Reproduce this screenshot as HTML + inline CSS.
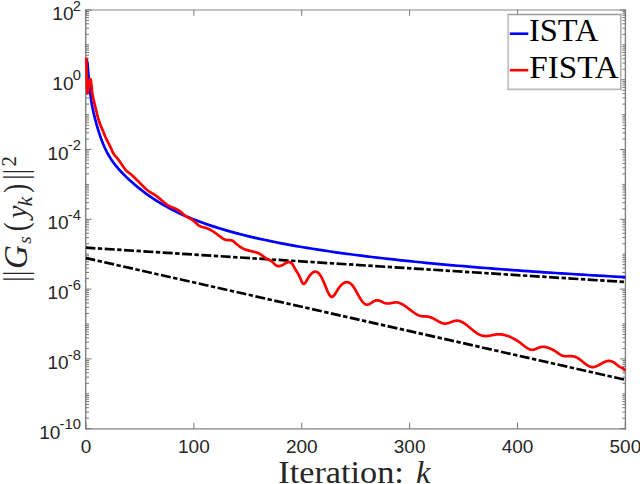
<!DOCTYPE html>
<html><head><meta charset="utf-8"><style>html,body{margin:0;padding:0;background:#fff;width:640px;height:484px;overflow:hidden}svg{display:block}</style></head>
<body><svg width="640" height="484" viewBox="0 0 640 484"><path d="M85.40 10.00H626.00" stroke="#c2c2c2" stroke-width="1.9" fill="none"/><path d="M85.40 428.85H626.00" stroke="#a4a4a4" stroke-width="1.7" fill="none"/><path d="M85.70 9.20V429.50M625.40 9.20V429.50" stroke="#808080" stroke-width="1.4" fill="none"/><path d="M86.00 428.70v-6 M86.00 9.90v6 M193.88 428.70v-6 M193.88 9.90v6 M301.76 428.70v-6 M301.76 9.90v6 M409.64 428.70v-6 M409.64 9.90v6 M517.52 428.70v-6 M517.52 9.90v6 M625.40 428.70v-6 M625.40 9.90v6 M86.00 428.70h5.5 M625.40 428.70h-5.5 M86.00 418.19h3.0 M625.40 418.19h-3.0 M86.00 412.05h3.0 M625.40 412.05h-3.0 M86.00 407.69h3.0 M625.40 407.69h-3.0 M86.00 404.31h3.0 M625.40 404.31h-3.0 M86.00 401.54h3.0 M625.40 401.54h-3.0 M86.00 399.21h3.0 M625.40 399.21h-3.0 M86.00 397.18h3.0 M625.40 397.18h-3.0 M86.00 395.40h3.0 M625.40 395.40h-3.0 M86.00 393.80h3.0 M625.40 393.80h-3.0 M86.00 383.29h3.0 M625.40 383.29h-3.0 M86.00 377.15h3.0 M625.40 377.15h-3.0 M86.00 372.79h3.0 M625.40 372.79h-3.0 M86.00 369.41h3.0 M625.40 369.41h-3.0 M86.00 366.64h3.0 M625.40 366.64h-3.0 M86.00 364.31h3.0 M625.40 364.31h-3.0 M86.00 362.28h3.0 M625.40 362.28h-3.0 M86.00 360.50h3.0 M625.40 360.50h-3.0 M86.00 358.90h5.5 M625.40 358.90h-5.5 M86.00 348.39h3.0 M625.40 348.39h-3.0 M86.00 342.25h3.0 M625.40 342.25h-3.0 M86.00 337.89h3.0 M625.40 337.89h-3.0 M86.00 334.51h3.0 M625.40 334.51h-3.0 M86.00 331.74h3.0 M625.40 331.74h-3.0 M86.00 329.41h3.0 M625.40 329.41h-3.0 M86.00 327.38h3.0 M625.40 327.38h-3.0 M86.00 325.60h3.0 M625.40 325.60h-3.0 M86.00 324.00h3.0 M625.40 324.00h-3.0 M86.00 313.49h3.0 M625.40 313.49h-3.0 M86.00 307.35h3.0 M625.40 307.35h-3.0 M86.00 302.99h3.0 M625.40 302.99h-3.0 M86.00 299.61h3.0 M625.40 299.61h-3.0 M86.00 296.84h3.0 M625.40 296.84h-3.0 M86.00 294.51h3.0 M625.40 294.51h-3.0 M86.00 292.48h3.0 M625.40 292.48h-3.0 M86.00 290.70h3.0 M625.40 290.70h-3.0 M86.00 289.10h5.5 M625.40 289.10h-5.5 M86.00 278.59h3.0 M625.40 278.59h-3.0 M86.00 272.45h3.0 M625.40 272.45h-3.0 M86.00 268.09h3.0 M625.40 268.09h-3.0 M86.00 264.71h3.0 M625.40 264.71h-3.0 M86.00 261.94h3.0 M625.40 261.94h-3.0 M86.00 259.61h3.0 M625.40 259.61h-3.0 M86.00 257.58h3.0 M625.40 257.58h-3.0 M86.00 255.80h3.0 M625.40 255.80h-3.0 M86.00 254.20h3.0 M625.40 254.20h-3.0 M86.00 243.69h3.0 M625.40 243.69h-3.0 M86.00 237.55h3.0 M625.40 237.55h-3.0 M86.00 233.19h3.0 M625.40 233.19h-3.0 M86.00 229.81h3.0 M625.40 229.81h-3.0 M86.00 227.04h3.0 M625.40 227.04h-3.0 M86.00 224.71h3.0 M625.40 224.71h-3.0 M86.00 222.68h3.0 M625.40 222.68h-3.0 M86.00 220.90h3.0 M625.40 220.90h-3.0 M86.00 219.30h5.5 M625.40 219.30h-5.5 M86.00 208.79h3.0 M625.40 208.79h-3.0 M86.00 202.65h3.0 M625.40 202.65h-3.0 M86.00 198.29h3.0 M625.40 198.29h-3.0 M86.00 194.91h3.0 M625.40 194.91h-3.0 M86.00 192.14h3.0 M625.40 192.14h-3.0 M86.00 189.81h3.0 M625.40 189.81h-3.0 M86.00 187.78h3.0 M625.40 187.78h-3.0 M86.00 186.00h3.0 M625.40 186.00h-3.0 M86.00 184.40h3.0 M625.40 184.40h-3.0 M86.00 173.89h3.0 M625.40 173.89h-3.0 M86.00 167.75h3.0 M625.40 167.75h-3.0 M86.00 163.39h3.0 M625.40 163.39h-3.0 M86.00 160.01h3.0 M625.40 160.01h-3.0 M86.00 157.24h3.0 M625.40 157.24h-3.0 M86.00 154.91h3.0 M625.40 154.91h-3.0 M86.00 152.88h3.0 M625.40 152.88h-3.0 M86.00 151.10h3.0 M625.40 151.10h-3.0 M86.00 149.50h5.5 M625.40 149.50h-5.5 M86.00 138.99h3.0 M625.40 138.99h-3.0 M86.00 132.85h3.0 M625.40 132.85h-3.0 M86.00 128.49h3.0 M625.40 128.49h-3.0 M86.00 125.11h3.0 M625.40 125.11h-3.0 M86.00 122.34h3.0 M625.40 122.34h-3.0 M86.00 120.01h3.0 M625.40 120.01h-3.0 M86.00 117.98h3.0 M625.40 117.98h-3.0 M86.00 116.20h3.0 M625.40 116.20h-3.0 M86.00 114.60h3.0 M625.40 114.60h-3.0 M86.00 104.09h3.0 M625.40 104.09h-3.0 M86.00 97.95h3.0 M625.40 97.95h-3.0 M86.00 93.59h3.0 M625.40 93.59h-3.0 M86.00 90.21h3.0 M625.40 90.21h-3.0 M86.00 87.44h3.0 M625.40 87.44h-3.0 M86.00 85.11h3.0 M625.40 85.11h-3.0 M86.00 83.08h3.0 M625.40 83.08h-3.0 M86.00 81.30h3.0 M625.40 81.30h-3.0 M86.00 79.70h5.5 M625.40 79.70h-5.5 M86.00 69.19h3.0 M625.40 69.19h-3.0 M86.00 63.05h3.0 M625.40 63.05h-3.0 M86.00 58.69h3.0 M625.40 58.69h-3.0 M86.00 55.31h3.0 M625.40 55.31h-3.0 M86.00 52.54h3.0 M625.40 52.54h-3.0 M86.00 50.21h3.0 M625.40 50.21h-3.0 M86.00 48.18h3.0 M625.40 48.18h-3.0 M86.00 46.40h3.0 M625.40 46.40h-3.0 M86.00 44.80h3.0 M625.40 44.80h-3.0 M86.00 34.29h3.0 M625.40 34.29h-3.0 M86.00 28.15h3.0 M625.40 28.15h-3.0 M86.00 23.79h3.0 M625.40 23.79h-3.0 M86.00 20.41h3.0 M625.40 20.41h-3.0 M86.00 17.64h3.0 M625.40 17.64h-3.0 M86.00 15.31h3.0 M625.40 15.31h-3.0 M86.00 13.28h3.0 M625.40 13.28h-3.0 M86.00 11.50h3.0 M625.40 11.50h-3.0 M86.00 9.90h5.5 M625.40 9.90h-5.5" stroke="#767676" stroke-width="1" fill="none"/><path d="M86.00 247.70L625.40 282.00" stroke="#000" stroke-width="2.7" fill="none" stroke-dasharray="10 2.48 4.4 2.48" stroke-dashoffset="0.6"/><path d="M86.00 258.10L625.40 379.80" stroke="#000" stroke-width="2.7" fill="none" stroke-dasharray="10 2.48 4.4 2.48" stroke-dashoffset="0.6"/><path d="M86.30 59.00 L87.35 62.42 L87.62 65.43 L87.89 68.54 L88.16 71.64 L88.43 74.72 L88.70 77.72 L88.97 80.64 L89.24 83.47 L89.51 86.19 L89.78 88.77 L90.05 91.23 L90.32 93.54 L90.58 95.71 L90.85 97.75 L91.12 99.65 L91.39 101.42 L92.47 107.54 L93.55 112.62 L94.63 117.10 L95.71 121.22 L96.79 125.12 L97.87 128.84 L98.95 132.35 L100.02 135.64 L101.10 138.73 L102.18 141.60 L103.26 144.27 L104.34 146.76 L105.42 149.09 L106.50 151.27 L107.58 153.32 L108.65 155.25 L109.73 157.07 L110.81 158.79 L111.89 160.42 L112.97 161.96 L114.05 163.43 L115.13 164.84 L116.21 166.18 L117.29 167.48 L118.36 168.73 L121.06 171.70 L123.76 174.48 L126.45 177.12 L129.15 179.65 L131.85 182.09 L134.55 184.45 L137.24 186.73 L139.94 188.92 L142.64 191.04 L145.33 193.07 L148.03 195.04 L150.73 196.93 L153.43 198.75 L156.12 200.50 L158.82 202.19 L161.52 203.82 L164.21 205.40 L166.91 206.91 L169.61 208.38 L172.30 209.79 L175.00 211.15 L177.70 212.47 L180.39 213.74 L183.09 214.97 L185.79 216.16 L188.49 217.31 L191.18 218.43 L193.88 219.51 L199.27 221.58 L204.67 223.53 L210.06 225.38 L215.46 227.14 L220.85 228.81 L226.24 230.40 L231.64 231.92 L237.03 233.37 L242.43 234.75 L247.82 236.09 L253.21 237.37 L258.61 238.60 L264.00 239.78 L269.40 240.92 L274.79 242.02 L280.18 243.08 L285.58 244.11 L290.97 245.10 L296.37 246.06 L301.76 246.99 L307.15 247.90 L312.55 248.77 L317.94 249.63 L323.34 250.45 L328.73 251.26 L334.12 252.04 L339.52 252.80 L344.91 253.54 L350.31 254.27 L355.70 254.97 L361.09 255.66 L366.49 256.33 L371.88 256.99 L377.28 257.63 L382.67 258.25 L388.06 258.87 L393.46 259.46 L398.85 260.05 L404.25 260.62 L409.64 261.18 L415.03 261.73 L420.43 262.27 L425.82 262.80 L431.22 263.31 L436.61 263.82 L442.00 264.32 L447.40 264.81 L452.79 265.29 L458.19 265.76 L463.58 266.22 L468.97 266.67 L474.37 267.12 L479.76 267.55 L485.16 267.98 L490.55 268.41 L495.94 268.82 L501.34 269.23 L506.73 269.63 L512.13 270.03 L517.52 270.42 L522.91 270.80 L528.31 271.18 L533.70 271.55 L539.10 271.92 L544.49 272.28 L549.88 272.64 L555.28 272.99 L560.67 273.33 L566.07 273.67 L571.46 274.01 L576.85 274.34 L582.25 274.66 L587.64 274.99 L593.04 275.30 L598.43 275.62 L603.82 275.93 L609.22 276.23 L614.61 276.53 L620.01 276.83 L625.40 277.12" stroke="#0000ff" stroke-width="2.7" fill="none" stroke-linejoin="round"/><path d="M86.20 57.50 C86.28 60.42 86.52 69.08 86.70 75.00 C86.88 80.92 87.02 90.83 87.30 93.00 C87.58 95.17 88.03 90.00 88.40 88.00 C88.77 86.00 89.13 82.42 89.50 81.00 C89.87 79.58 90.25 78.67 90.60 79.50 C90.95 80.33 91.33 83.73 91.60 86.00 C91.87 88.27 92.10 91.95 92.20 93.14 L92.80 96.10 L93.40 98.86 L94.00 101.48 L94.60 104.00 L95.20 106.45 L95.80 108.87 L96.40 111.29 L97.00 113.73 L97.60 116.12 L98.20 118.39 L98.80 120.48 L99.40 122.32 L100.00 123.94 L100.60 125.41 L101.20 126.79 L101.80 128.13 L102.40 129.50 L103.00 130.95 L103.60 132.48 L104.20 134.04 L104.80 135.55 L105.40 136.96 L106.00 138.27 L106.60 139.49 L107.20 140.67 L107.80 141.82 L108.40 142.99 L109.00 144.17 L109.60 145.39 L110.20 146.64 L110.80 147.93 L111.40 149.27 L112.00 150.62 L112.60 151.91 L113.20 153.07 L113.80 154.04 L114.40 154.88 L115.00 155.62 L115.60 156.29 L116.20 156.94 L116.80 157.62 L117.40 158.33 L118.00 159.10 L118.60 159.90 L119.20 160.73 L119.80 161.59 L120.40 162.47 L121.00 163.35 L121.60 164.24 L122.20 165.13 L122.80 166.01 L123.40 166.88 L124.00 167.72 L124.60 168.52 L125.20 169.29 L125.80 169.99 L126.40 170.62 L127.00 171.19 L127.60 171.71 L128.20 172.19 L128.80 172.65 L129.40 173.11 L130.00 173.58 L130.60 174.07 L131.20 174.57 L131.80 175.10 L132.40 175.64 L133.00 176.19 L133.60 176.76 L134.20 177.34 L134.80 177.92 L135.40 178.51 L136.00 179.10 L136.60 179.70 L137.20 180.29 L137.80 180.89 L138.40 181.49 L139.00 182.08 L139.60 182.68 L140.20 183.28 L140.80 183.88 L141.40 184.49 L142.00 185.09 L142.60 185.70 L143.20 186.31 L143.80 186.92 L144.40 187.52 L145.00 188.11 L145.60 188.68 L146.20 189.23 L146.80 189.75 L147.40 190.24 L148.00 190.69 L148.60 191.12 L149.20 191.52 L149.80 191.90 L150.40 192.27 L151.00 192.62 L151.60 192.97 L152.20 193.31 L152.80 193.66 L153.40 194.01 L154.00 194.37 L154.60 194.74 L155.20 195.13 L155.80 195.55 L156.40 195.98 L157.00 196.43 L157.60 196.89 L158.20 197.37 L158.80 197.86 L159.40 198.36 L160.00 198.87 L160.60 199.38 L161.20 199.90 L161.80 200.43 L162.40 200.95 L163.00 201.47 L163.60 201.99 L164.20 202.50 L164.80 203.00 L165.40 203.48 L166.00 203.94 L166.60 204.39 L167.20 204.80 L167.80 205.19 L168.40 205.55 L169.00 205.88 L169.60 206.19 L170.20 206.48 L170.80 206.76 L171.40 207.02 L172.00 207.28 L172.60 207.52 L173.20 207.77 L173.80 208.01 L174.40 208.26 L175.00 208.51 L175.60 208.77 L176.20 209.05 L176.80 209.34 L177.40 209.65 L178.00 209.99 L178.60 210.35 L179.20 210.73 L179.80 211.15 L180.40 211.61 L181.00 212.10 L181.60 212.61 L182.20 213.13 L182.80 213.66 L183.40 214.19 L184.00 214.72 L184.60 215.22 L185.20 215.70 L185.80 216.15 L186.40 216.56 L187.00 216.93 L187.60 217.27 L188.20 217.59 L188.80 217.90 L189.40 218.20 L190.00 218.51 L190.60 218.83 L191.20 219.17 L191.80 219.54 L192.40 219.95 L193.00 220.40 L193.60 220.89 L194.20 221.41 L194.80 221.95 L195.40 222.50 L196.00 223.06 L196.60 223.61 L197.20 224.15 L197.80 224.66 L198.40 225.15 L199.00 225.59 L199.60 225.98 L200.20 226.32 L200.80 226.59 L201.40 226.81 L202.00 226.99 L202.60 227.15 L203.20 227.28 L203.80 227.41 L204.40 227.53 L205.00 227.67 L205.60 227.84 L206.20 228.02 L206.80 228.23 L207.40 228.46 L208.00 228.70 L208.60 228.97 L209.20 229.25 L209.80 229.56 L210.40 229.87 L211.00 230.21 L211.60 230.56 L212.20 230.92 L212.80 231.29 L213.40 231.68 L214.00 232.08 L214.60 232.49 L215.20 232.90 L215.80 233.33 L216.40 233.76 L217.00 234.20 L217.60 234.65 L218.20 235.10 L218.80 235.55 L219.40 236.01 L220.00 236.47 L220.60 236.93 L221.20 237.38 L221.80 237.82 L222.40 238.24 L223.00 238.63 L223.60 238.99 L224.20 239.30 L224.80 239.56 L225.40 239.76 L226.00 239.90 L226.60 239.99 L227.20 240.03 L227.80 240.05 L228.40 240.05 L229.00 240.05 L229.60 240.06 L230.20 240.10 L230.80 240.19 L231.40 240.32 L232.00 240.53 L232.60 240.82 L233.20 241.19 L233.80 241.64 L234.40 242.14 L235.00 242.68 L235.60 243.24 L236.20 243.79 L236.80 244.33 L237.40 244.84 L238.00 245.32 L238.60 245.78 L239.20 246.22 L239.80 246.63 L240.40 247.01 L241.00 247.38 L241.60 247.73 L242.20 248.05 L242.80 248.36 L243.40 248.65 L244.00 248.92 L244.60 249.18 L245.20 249.42 L245.80 249.64 L246.40 249.86 L247.00 250.06 L247.60 250.25 L248.20 250.42 L248.80 250.59 L249.40 250.75 L250.00 250.90 L250.60 251.05 L251.20 251.19 L251.80 251.32 L252.40 251.46 L253.00 251.60 L253.60 251.74 L254.20 251.88 L254.80 252.04 L255.40 252.20 L256.00 252.38 L256.60 252.58 L257.20 252.79 L257.80 253.02 L258.40 253.28 L259.00 253.56 L259.60 253.87 L260.20 254.21 L260.80 254.58 L261.40 254.98 L262.00 255.40 L262.60 255.83 L263.20 256.27 L263.80 256.72 L264.40 257.17 L265.00 257.62 L265.60 258.05 L266.20 258.45 L266.80 258.83 L267.40 259.15 L268.00 259.44 L268.60 259.68 L269.20 259.92 L269.80 260.17 L270.40 260.46 L271.00 260.79 L271.60 261.21 L272.20 261.71 L272.80 262.30 L273.40 262.93 L274.00 263.57 L274.60 264.18 L275.20 264.74 L275.80 265.21 L276.40 265.58 L277.00 265.85 L277.60 266.03 L278.20 266.13 L278.80 266.15 L279.40 266.10 L280.00 265.99 L280.60 265.82 L281.20 265.61 L281.80 265.35 L282.40 265.05 L283.00 264.73 L283.60 264.39 L284.20 264.03 L284.80 263.67 L285.40 263.31 L286.00 262.97 L286.60 262.67 L287.20 262.42 L287.80 262.23 L288.40 262.12 L289.00 262.10 L289.60 262.18 L290.20 262.37 L290.80 262.69 L291.40 263.13 L292.00 263.72 L292.60 264.46 L293.20 265.37 L293.80 266.41 L294.40 267.53 L295.00 268.64 L295.60 269.69 L296.20 270.70 L296.80 271.67 L297.40 272.65 L298.00 273.67 L298.60 274.73 L299.20 275.88 L299.80 277.14 L300.40 278.53 L301.00 279.97 L301.60 281.36 L302.20 282.55 L302.80 283.42 L303.40 283.87 L304.00 283.88 L304.60 283.54 L305.20 282.90 L305.80 282.05 L306.40 281.05 L307.00 279.98 L307.60 278.91 L308.20 277.90 L308.80 276.96 L309.40 276.08 L310.00 275.27 L310.60 274.54 L311.20 273.88 L311.80 273.30 L312.40 272.81 L313.00 272.40 L313.60 272.08 L314.20 271.85 L314.80 271.71 L315.40 271.67 L316.00 271.72 L316.60 271.88 L317.20 272.15 L317.80 272.52 L318.40 273.00 L319.00 273.59 L319.60 274.31 L320.20 275.14 L320.80 276.08 L321.40 277.14 L322.00 278.28 L322.60 279.52 L323.20 280.82 L323.80 282.19 L324.40 283.62 L325.00 285.08 L325.60 286.57 L326.20 288.06 L326.80 289.53 L327.40 290.94 L328.00 292.27 L328.60 293.48 L329.20 294.56 L329.80 295.47 L330.40 296.18 L331.00 296.67 L331.60 296.90 L332.20 296.87 L332.80 296.60 L333.40 296.12 L334.00 295.48 L334.60 294.69 L335.20 293.80 L335.80 292.84 L336.40 291.84 L337.00 290.83 L337.60 289.85 L338.20 288.92 L338.80 288.05 L339.40 287.23 L340.00 286.47 L340.60 285.77 L341.20 285.13 L341.80 284.55 L342.40 284.03 L343.00 283.57 L343.60 283.17 L344.20 282.84 L344.80 282.57 L345.40 282.37 L346.00 282.23 L346.60 282.16 L347.20 282.16 L347.80 282.23 L348.40 282.38 L349.00 282.60 L349.60 282.90 L350.20 283.28 L350.80 283.74 L351.40 284.28 L352.00 284.91 L352.60 285.63 L353.20 286.43 L353.80 287.31 L354.40 288.25 L355.00 289.24 L355.60 290.28 L356.20 291.35 L356.80 292.43 L357.40 293.52 L358.00 294.60 L358.60 295.67 L359.20 296.71 L359.80 297.72 L360.40 298.70 L361.00 299.62 L361.60 300.49 L362.20 301.30 L362.80 302.04 L363.40 302.70 L364.00 303.28 L364.60 303.76 L365.20 304.15 L365.80 304.43 L366.40 304.59 L367.00 304.65 L367.60 304.61 L368.20 304.48 L368.80 304.28 L369.40 304.02 L370.00 303.70 L370.60 303.35 L371.20 302.97 L371.80 302.58 L372.40 302.19 L373.00 301.80 L373.60 301.43 L374.20 301.10 L374.80 300.81 L375.40 300.58 L376.00 300.41 L376.60 300.32 L377.20 300.31 L377.80 300.35 L378.40 300.46 L379.00 300.61 L379.60 300.80 L380.20 301.03 L380.80 301.28 L381.40 301.55 L382.00 301.83 L382.60 302.11 L383.20 302.39 L383.80 302.65 L384.40 302.89 L385.00 303.10 L385.60 303.27 L386.20 303.40 L386.80 303.48 L387.40 303.52 L388.00 303.52 L388.60 303.49 L389.20 303.42 L389.80 303.34 L390.40 303.24 L391.00 303.13 L391.60 303.01 L392.20 302.88 L392.80 302.76 L393.40 302.65 L394.00 302.55 L394.60 302.47 L395.20 302.42 L395.80 302.39 L396.40 302.39 L397.00 302.44 L397.60 302.52 L398.20 302.64 L398.80 302.79 L399.40 302.98 L400.00 303.20 L400.60 303.44 L401.20 303.72 L401.80 304.02 L402.40 304.34 L403.00 304.68 L403.60 305.05 L404.20 305.43 L404.80 305.83 L405.40 306.24 L406.00 306.67 L406.60 307.10 L407.20 307.55 L407.80 308.00 L408.40 308.46 L409.00 308.92 L409.60 309.38 L410.20 309.85 L410.80 310.31 L411.40 310.76 L412.00 311.21 L412.60 311.66 L413.20 312.09 L413.80 312.51 L414.40 312.92 L415.00 313.32 L415.60 313.70 L416.20 314.05 L416.80 314.39 L417.40 314.71 L418.00 315.00 L418.60 315.27 L419.20 315.51 L419.80 315.72 L420.40 315.90 L421.00 316.04 L421.60 316.15 L422.20 316.23 L422.80 316.29 L423.40 316.33 L424.00 316.36 L424.60 316.38 L425.20 316.40 L425.80 316.43 L426.40 316.46 L427.00 316.52 L427.60 316.59 L428.20 316.69 L428.80 316.82 L429.40 316.97 L430.00 317.15 L430.60 317.35 L431.20 317.57 L431.80 317.81 L432.40 318.07 L433.00 318.34 L433.60 318.64 L434.20 318.94 L434.80 319.27 L435.40 319.61 L436.00 319.95 L436.60 320.31 L437.20 320.67 L437.80 321.02 L438.40 321.37 L439.00 321.71 L439.60 322.03 L440.20 322.33 L440.80 322.62 L441.40 322.87 L442.00 323.10 L442.60 323.29 L443.20 323.44 L443.80 323.54 L444.40 323.60 L445.00 323.62 L445.60 323.59 L446.20 323.52 L446.80 323.42 L447.40 323.29 L448.00 323.14 L448.60 322.96 L449.20 322.77 L449.80 322.57 L450.40 322.35 L451.00 322.14 L451.60 321.92 L452.20 321.71 L452.80 321.50 L453.40 321.31 L454.00 321.14 L454.60 320.98 L455.20 320.85 L455.80 320.76 L456.40 320.69 L457.00 320.66 L457.60 320.68 L458.20 320.74 L458.80 320.84 L459.40 320.98 L460.00 321.16 L460.60 321.38 L461.20 321.63 L461.80 321.91 L462.40 322.22 L463.00 322.56 L463.60 322.93 L464.20 323.31 L464.80 323.72 L465.40 324.15 L466.00 324.59 L466.60 325.04 L467.20 325.51 L467.80 325.99 L468.40 326.48 L469.00 326.97 L469.60 327.47 L470.20 327.97 L470.80 328.47 L471.40 328.97 L472.00 329.47 L472.60 329.96 L473.20 330.45 L473.80 330.92 L474.40 331.39 L475.00 331.84 L475.60 332.28 L476.20 332.70 L476.80 333.11 L477.40 333.49 L478.00 333.85 L478.60 334.19 L479.20 334.50 L479.80 334.78 L480.40 335.03 L481.00 335.26 L481.60 335.45 L482.20 335.62 L482.80 335.75 L483.40 335.87 L484.00 335.95 L484.60 336.01 L485.20 336.05 L485.80 336.06 L486.40 336.05 L487.00 336.02 L487.60 335.97 L488.20 335.91 L488.80 335.83 L489.40 335.74 L490.00 335.63 L490.60 335.52 L491.20 335.41 L491.80 335.29 L492.40 335.16 L493.00 335.04 L493.60 334.92 L494.20 334.81 L494.80 334.70 L495.40 334.60 L496.00 334.51 L496.60 334.44 L497.20 334.38 L497.80 334.33 L498.40 334.31 L499.00 334.30 L499.60 334.32 L500.20 334.35 L500.80 334.40 L501.40 334.46 L502.00 334.54 L502.60 334.64 L503.20 334.75 L503.80 334.88 L504.40 335.02 L505.00 335.17 L505.60 335.33 L506.20 335.51 L506.80 335.69 L507.40 335.89 L508.00 336.10 L508.60 336.32 L509.20 336.55 L509.80 336.80 L510.40 337.05 L511.00 337.32 L511.60 337.60 L512.20 337.89 L512.80 338.19 L513.40 338.50 L514.00 338.83 L514.60 339.16 L515.20 339.51 L515.80 339.86 L516.40 340.23 L517.00 340.61 L517.60 341.00 L518.20 341.41 L518.80 341.82 L519.40 342.25 L520.00 342.68 L520.60 343.13 L521.20 343.58 L521.80 344.05 L522.40 344.52 L523.00 345.00 L523.60 345.47 L524.20 345.94 L524.80 346.40 L525.40 346.84 L526.00 347.27 L526.60 347.68 L527.20 348.06 L527.80 348.42 L528.40 348.74 L529.00 349.03 L529.60 349.28 L530.20 349.48 L530.80 349.64 L531.40 349.74 L532.00 349.79 L532.60 349.78 L533.20 349.72 L533.80 349.60 L534.40 349.43 L535.00 349.23 L535.60 349.00 L536.20 348.75 L536.80 348.49 L537.40 348.23 L538.00 347.96 L538.60 347.71 L539.20 347.48 L539.80 347.27 L540.40 347.10 L541.00 346.96 L541.60 346.86 L542.20 346.80 L542.80 346.77 L543.40 346.76 L544.00 346.79 L544.60 346.85 L545.20 346.94 L545.80 347.05 L546.40 347.18 L547.00 347.34 L547.60 347.52 L548.20 347.73 L548.80 347.95 L549.40 348.19 L550.00 348.44 L550.60 348.71 L551.20 349.00 L551.80 349.29 L552.40 349.60 L553.00 349.92 L553.60 350.25 L554.20 350.59 L554.80 350.95 L555.40 351.32 L556.00 351.71 L556.60 352.12 L557.20 352.55 L557.80 352.97 L558.40 353.40 L559.00 353.82 L559.60 354.22 L560.20 354.60 L560.80 354.95 L561.40 355.26 L562.00 355.53 L562.60 355.75 L563.20 355.92 L563.80 356.04 L564.40 356.14 L565.00 356.19 L565.60 356.23 L566.20 356.24 L566.80 356.23 L567.40 356.22 L568.00 356.19 L568.60 356.17 L569.20 356.15 L569.80 356.14 L570.40 356.14 L571.00 356.15 L571.60 356.18 L572.20 356.23 L572.80 356.30 L573.40 356.39 L574.00 356.52 L574.60 356.67 L575.20 356.86 L575.80 357.09 L576.40 357.35 L577.00 357.65 L577.60 357.99 L578.20 358.36 L578.80 358.75 L579.40 359.17 L580.00 359.61 L580.60 360.06 L581.20 360.53 L581.80 361.01 L582.40 361.49 L583.00 361.97 L583.60 362.46 L584.20 362.93 L584.80 363.40 L585.40 363.86 L586.00 364.30 L586.60 364.72 L587.20 365.12 L587.80 365.49 L588.40 365.83 L589.00 366.14 L589.60 366.41 L590.20 366.64 L590.80 366.82 L591.40 366.96 L592.00 367.04 L592.60 367.08 L593.20 367.05 L593.80 366.99 L594.40 366.87 L595.00 366.72 L595.60 366.53 L596.20 366.31 L596.80 366.06 L597.40 365.79 L598.00 365.49 L598.60 365.18 L599.20 364.85 L599.80 364.52 L600.40 364.17 L601.00 363.83 L601.60 363.49 L602.20 363.15 L602.80 362.82 L603.40 362.51 L604.00 362.21 L604.60 361.94 L605.20 361.68 L605.80 361.46 L606.40 361.27 L607.00 361.11 L607.60 361.00 L608.20 360.92 L608.80 360.90 L609.40 360.92 L610.00 360.98 L610.60 361.09 L611.20 361.24 L611.80 361.44 L612.40 361.68 L613.00 361.97 L613.60 362.29 L614.20 362.66 L614.80 363.08 L615.40 363.53 L616.00 364.01 L616.60 364.52 L617.20 365.02 L617.80 365.52 L618.40 365.99 L619.00 366.42 L619.60 366.81 L620.20 367.12 L620.80 367.38 L621.40 367.61 L622.00 367.87 L622.60 368.20 L623.20 368.64 L623.80 369.24 L624.40 370.03 L625.00 371.06" stroke="#ff0000" stroke-width="2.7" fill="none" stroke-linejoin="round"/><g font-family="Liberation Sans, sans-serif" font-size="19" fill="#262626"><text x="86.00" y="452.5" text-anchor="middle">0</text><text x="193.88" y="452.5" text-anchor="middle">100</text><text x="301.76" y="452.5" text-anchor="middle">200</text><text x="409.64" y="452.5" text-anchor="middle">300</text><text x="517.52" y="452.5" text-anchor="middle">400</text><text x="625.40" y="452.5" text-anchor="middle">500</text><text x="80.9" y="19.90" text-anchor="end">10<tspan dx="-0.8" dy="-9.3" font-size="14.75">2</tspan></text><text x="80.9" y="89.70" text-anchor="end">10<tspan dx="-0.8" dy="-9.3" font-size="14.75">0</tspan></text><text x="80.9" y="159.50" text-anchor="end">10<tspan dx="-0.8" dy="-9.3" font-size="14.75">-2</tspan></text><text x="80.9" y="229.30" text-anchor="end">10<tspan dx="-0.8" dy="-9.3" font-size="14.75">-4</tspan></text><text x="80.9" y="299.10" text-anchor="end">10<tspan dx="-0.8" dy="-9.3" font-size="14.75">-6</tspan></text><text x="80.9" y="368.90" text-anchor="end">10<tspan dx="-0.8" dy="-9.3" font-size="14.75">-8</tspan></text><text x="80.9" y="438.70" text-anchor="end">10<tspan dx="-0.8" dy="-9.3" font-size="14.75">-10</tspan></text></g><rect x="508.1" y="14.6" width="112.65" height="74.7" fill="#fff"/><path d="M507.4 14.5H621.5" stroke="#9a9a9a" stroke-width="1.5" fill="none"/><path d="M507.4 89.4H621.5" stroke="#bababa" stroke-width="1.6" fill="none"/><path d="M508.1 13.8V90.2" stroke="#b8b8b8" stroke-width="1.5" fill="none"/><path d="M620.8 13.8V90.2" stroke="#acacac" stroke-width="1.5" fill="none"/><path d="M509.8 33.7H528.3" stroke="#0000ff" stroke-width="2.6"/><path d="M509.8 70.2H528.3" stroke="#ff0000" stroke-width="2.6"/><g font-family="Liberation Serif, serif" font-size="32" fill="#000"><text x="528.9" y="41.2" textLength="69.5" lengthAdjust="spacingAndGlyphs">ISTA</text><text x="529.3" y="77.8" textLength="89.5" lengthAdjust="spacingAndGlyphs">FISTA</text></g><g font-family="Liberation Serif, serif" font-size="32.5" fill="#262626"><text x="278.3" y="482.7" textLength="125.6" lengthAdjust="spacingAndGlyphs">Iteration:</text><text x="416.0" y="482.7" font-style="italic">k</text></g><g transform="translate(27.00 279.5) rotate(-90)" font-family="Liberation Serif, serif" fill="#262626"><text transform="translate(-2.27 0.00) scale(0.800 1)" font-size="32.80">|</text><text transform="translate(3.58 0.00) scale(0.800 1)" font-size="32.80">|</text><text transform="translate(99.68 0.00) scale(0.800 1)" font-size="32.80">|</text><text transform="translate(105.18 0.00) scale(0.800 1)" font-size="32.80">|</text><text x="10.57" y="0.00" font-size="33.20" font-style="italic">G</text><text x="35.67" y="4.40" font-size="19.30" font-style="italic">s</text><text transform="translate(48.31 0.10) scale(0.800 1)" font-size="33.70">(</text><text x="61.28" y="-0.20" font-size="28.70" font-style="italic">y</text><text x="73.18" y="4.80" font-size="21.50" font-style="italic">k</text><text transform="translate(86.64 0.10) scale(0.800 1)" font-size="33.70">)</text><text x="112.99" y="-11.10" font-size="20.70">2</text></g></svg></body></html>
